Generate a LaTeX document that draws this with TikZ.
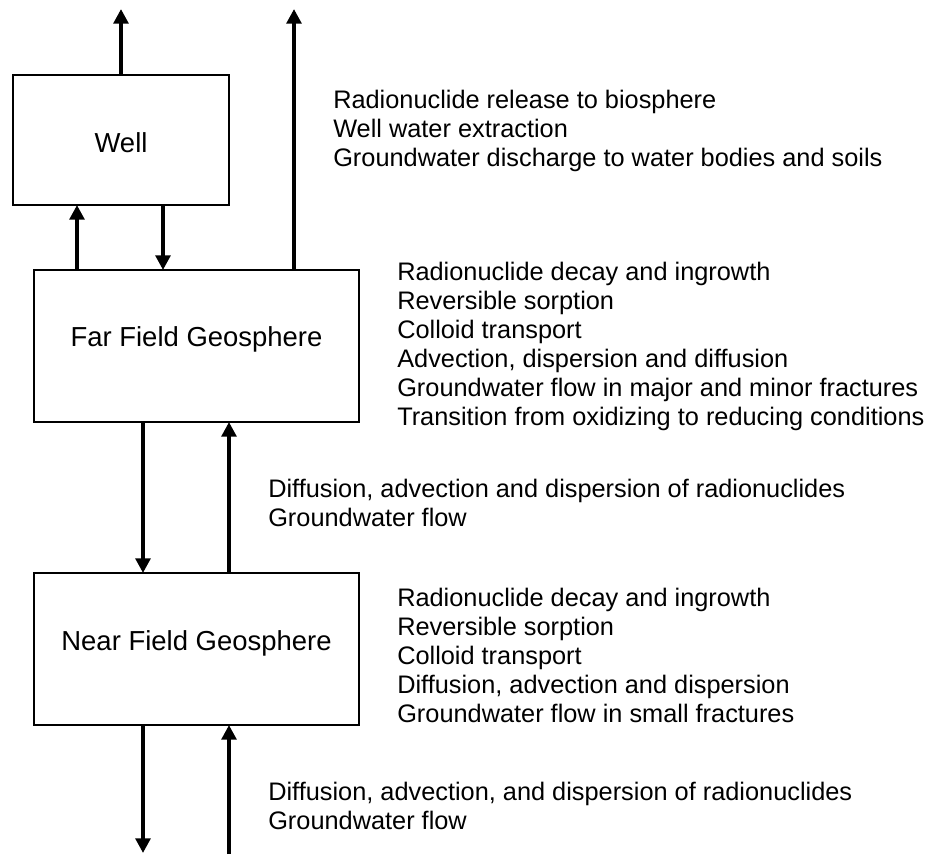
\documentclass[tikz,border=0pt]{standalone}
\usepackage{fontspec}
\setmainfont{Liberation Sans}
\usetikzlibrary{arrows.meta}
\begin{document}
\begin{tikzpicture}[x=0.75pt,y=-0.75pt,
  box/.style={draw=black, line width=1.3pt, inner sep=0pt, outer sep=0pt},
  boxlabel/.style={inner sep=0pt, font=\fontsize{20.6pt}{24pt}\selectfont},
  % lists are anchored at the baseline of their last line
  notes/.style={inner sep=0pt, align=left, anchor=base west,
                font=\fontsize{19pt}{21.75pt}\selectfont},
  flow/.style={draw=black, line width=3pt,
               -{Triangle[width=10.9pt,length=10.9pt]}}
]
\useasboundingbox (0,0) rectangle (932,854);
\fill[white] (0,0) rectangle (932,854);

% compartments
\node[box, minimum width=162pt, minimum height=97.5pt] (well) at (121,140) {};
\node[box, minimum width=243.75pt, minimum height=114pt] (far) at (196.5,346) {};
\node[box, minimum width=243.75pt, minimum height=114pt] (near) at (196.5,649) {};

\node[boxlabel, anchor=base] (welltxt) at (121,152.3) {Well};
\node[boxlabel, anchor=base] (fartxt) at (196.5,346.7) {Far Field Geosphere};
\node[boxlabel, anchor=base] (neartxt) at (196.5,650.7) {Near Field Geosphere};

% process lists
\node[notes] (biotxt) at (333,166) {Radionuclide release to biosphere\\
  Well water extraction\\
  Groundwater discharge to water bodies and soils};
\node[notes] (farlist) at (397,425) {Radionuclide decay and ingrowth\\
  Reversible sorption\\
  Colloid transport\\
  Advection, dispersion and diffusion\\
  Groundwater flow in major and minor fractures\\
  Transition from oxidizing to reducing conditions};
\node[notes] (midtxt) at (268,526) {Diffusion, advection and dispersion of radionuclides\\
  Groundwater flow};
\node[notes] (nearlist) at (397,722) {Radionuclide decay and ingrowth\\
  Reversible sorption\\
  Colloid transport\\
  Diffusion, advection and dispersion\\
  Groundwater flow in small fractures};
\node[notes] (lowtxt) at (268,829) {Diffusion, advection, and dispersion of radionuclides\\
  Groundwater flow};

% arrow columns and free ends
\coordinate (xa) at (77,0);
\coordinate (xb) at (163,0);
\coordinate (xc) at (294,0);
\coordinate (xd) at (143,0);
\coordinate (xe) at (229,0);
\coordinate (topwell) at (121,9);
\coordinate (topbio) at (294,9);
\coordinate (botdown) at (143,853);
\coordinate (botup) at (229,854);

% transport paths
\draw[flow] (well.north) -- (topwell);
\draw[flow] (far.north -| xc) -- (topbio);
\draw[flow] (far.north -| xa) -- (well.south -| xa);
\draw[flow] (well.south -| xb) -- (far.north -| xb);
\draw[flow] (far.south -| xd) -- (near.north -| xd);
\draw[flow] (near.north -| xe) -- (far.south -| xe);
\draw[flow] (near.south -| xd) -- (botdown);
\draw[flow] (botup) -- (near.south -| xe);
\end{tikzpicture}
\end{document}
